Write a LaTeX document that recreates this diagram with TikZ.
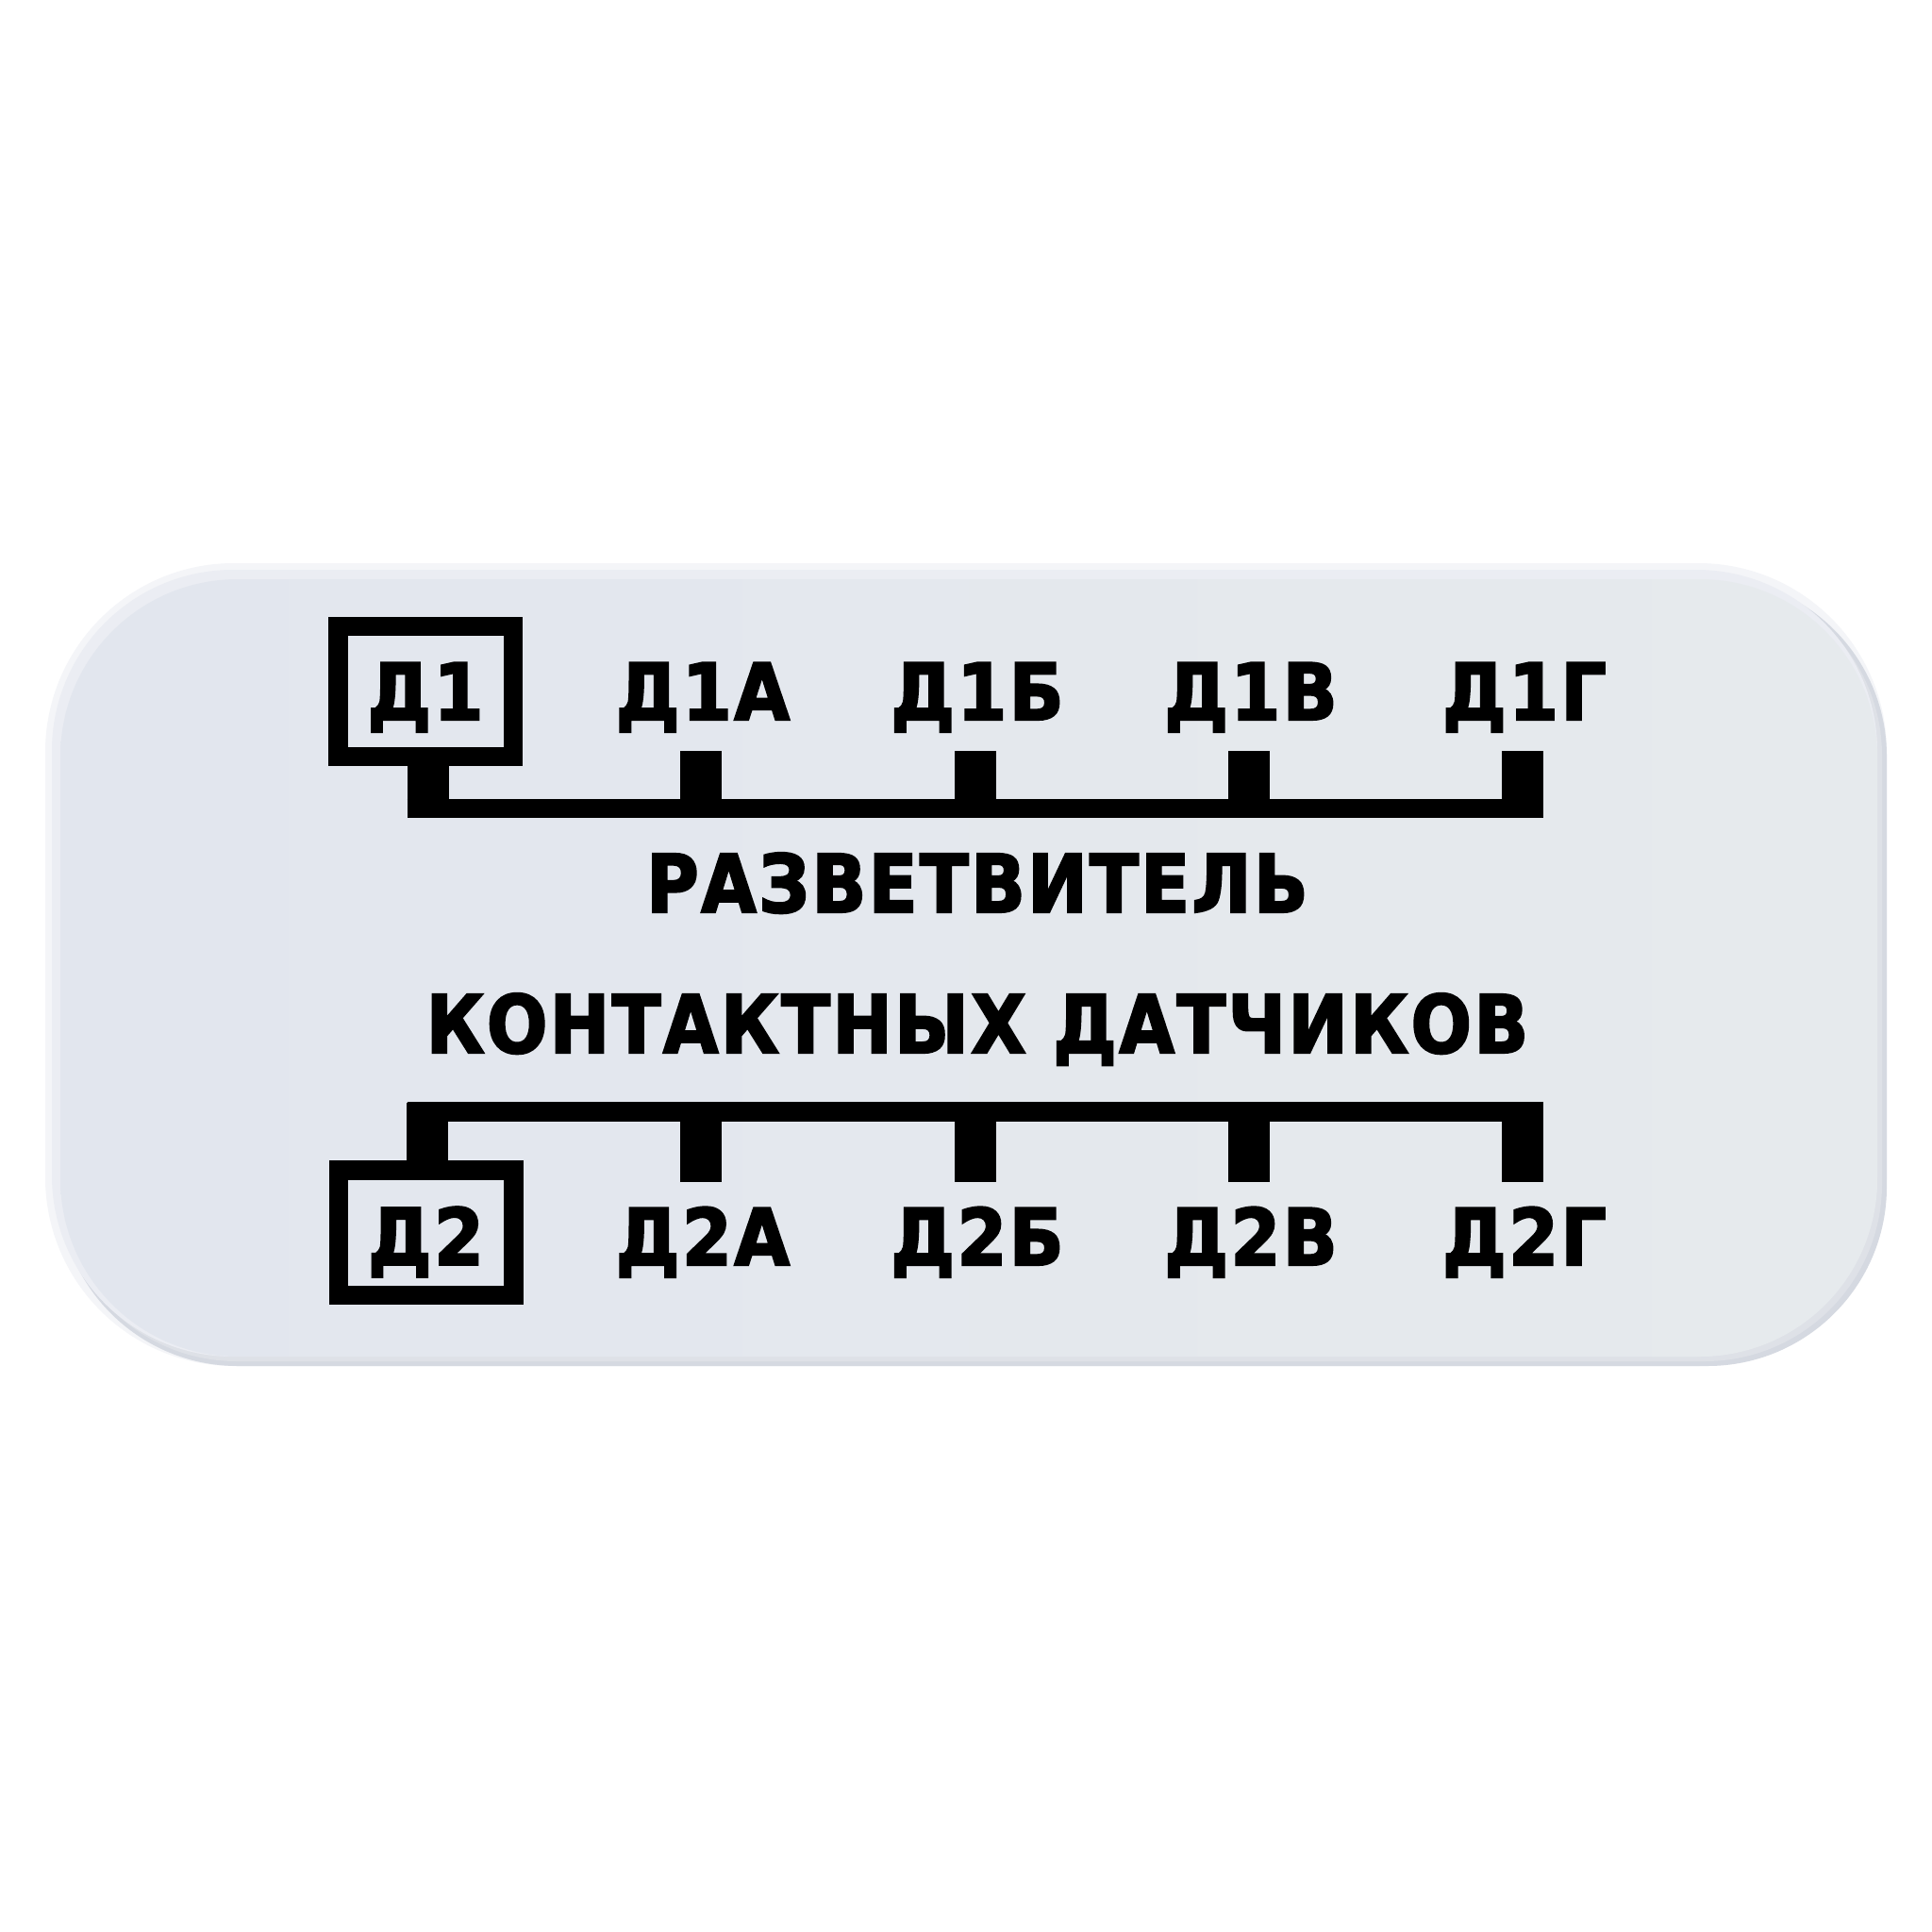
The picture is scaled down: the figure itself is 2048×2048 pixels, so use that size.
\documentclass[tikz,border=0pt]{standalone}
\usepackage{fontspec}
\newfontfamily\labfont[FakeStretch=0.915,FakeBold=2.6,LetterSpace=3]{DejaVu Sans}
\newfontfamily\titfont[FakeStretch=0.89,FakeBold=2.6,LetterSpace=3]{DejaVu Sans}
\definecolor{rimwhite}{HTML}{F4F5F8}
\definecolor{rimdark}{HTML}{D5D9E1}
\definecolor{bodyleft}{HTML}{E2E6EE}
\definecolor{bodyright}{HTML}{E6EAED}
\tikzset{
  boxnode/.style={draw=black, line width=10.25pt, inner sep=0pt, outer sep=0pt,
    minimum width=92.75pt, text depth=0pt,
    font=\labfont\bfseries\fontsize{41.5pt}{44pt}\selectfont},
  lab/.style={anchor=base, inner sep=0pt, outer sep=0pt,
    font=\labfont\bfseries\fontsize{41.5pt}{44pt}\selectfont},
  titletext/.style={anchor=base, inner sep=0pt, outer sep=0pt,
    font=\titfont\bfseries\fontsize{42.5pt}{46pt}\selectfont},
  busline/.style={line width=10.25pt, line cap=butt},
  stubline/.style={line width=22pt, line cap=butt},
}
\begin{document}
\begin{tikzpicture}[x=0.5pt,y=-0.5pt]
\useasboundingbox (0,0) rectangle (2048,2048);
\fill[white] (0,0) rectangle (2048,2048);
% panel
\fill[rimwhite, rounded corners=100pt] (48,597) rectangle (2000,1448);
\fill[rimdark, rounded corners=95pt] (62,612) rectangle (2000,1448);
\fill[rimdark!50!bodyright, rounded corners=94pt] (63,613) rectangle (1995,1443);
\fill[rimwhite!50!bodyleft, rounded corners=96pt] (55,604) rectangle (1990,1438);
\shade[left color=bodyleft, right color=bodyright, rounded corners=94pt] (64,614) rectangle (1990,1438);

% top row
\node[boxnode, minimum height=69.15pt, text height=30pt] (D1) at (451,733) {Д1};
\node[lab] (L1A) at (745,763) {Д1А};
\node[lab] (L1B) at (1036,763) {Д1Б};
\node[lab] (L1V) at (1326,763) {Д1В};
\node[lab] (L1G) at (1616,763) {Д1Г};
\coordinate (b1w) at (431.5,857);
\coordinate (b1e) at (1636,857);
\draw[busline] (b1w) -- (b1e);
\draw[stubline] ([xshift=1.25pt]D1.south) -- ++(0,-32.5pt);
\foreach \n in {L1A,L1B,L1V,L1G}
  \draw[stubline] (\n.base) ++(-2,33) -- ++(0,71);

% title
\node[titletext] (T1) at (1036,967) {РАЗВЕТВИТЕЛЬ};
\node[titletext] (T2) at (1036,1116) {КОНТАКТНЫХ ДАТЧИКОВ};

% bottom row
\node[boxnode, minimum height=66.25pt, text height=34pt] (D2) at (451.5,1306.8) {Д2};
\node[lab] (L2A) at (745,1341) {Д2А};
\node[lab] (L2B) at (1036,1341) {Д2Б};
\node[lab] (L2V) at (1326,1341) {Д2В};
\node[lab] (L2G) at (1616,1341) {Д2Г};
\coordinate (b2w) at (431.5,1178.7);
\coordinate (b2e) at (1636,1178.7);
\draw[busline] (b2w) -- (b2e);
\draw[stubline] ([xshift=0.75pt]D2.north) -- ++(0,36pt);
\foreach \n in {L2A,L2B,L2V,L2G}
  \draw[stubline] (\n.base) ++(-2,-88) -- ++(0,-85);
\end{tikzpicture}
\end{document}
